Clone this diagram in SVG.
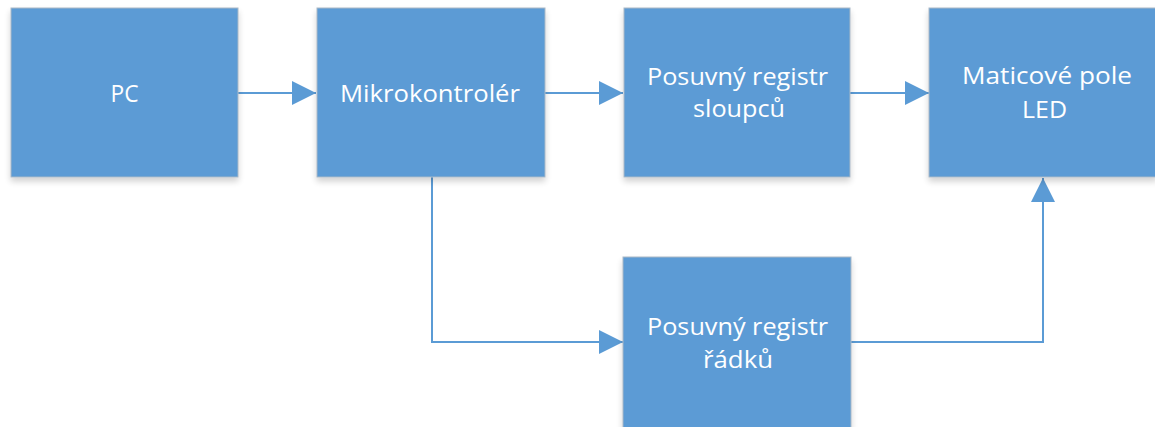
<svg xmlns="http://www.w3.org/2000/svg" width="1155" height="427" viewBox="0 0 1155 427">
<style>
.box{fill:#5B9BD5;stroke:#a9b8c6;stroke-width:1;filter:url(#sh)}
.lbl{font-family:"Open Sans","Liberation Sans",sans-serif;font-size:24px;fill:#ffffff;text-anchor:middle}
.conn{fill:none;stroke:#5B9BD5;stroke-width:2;marker-end:url(#ah)}
</style>
<defs>
<filter id="sh" x="-5%" y="-5%" width="110%" height="120%">
<feGaussianBlur in="SourceAlpha" stdDeviation="3"/>
<feOffset dy="4" result="b"/>
<feComponentTransfer><feFuncA type="linear" slope="0.18"/></feComponentTransfer>
<feMerge><feMergeNode/><feMergeNode in="SourceGraphic"/></feMerge>
</filter>
<marker id="ah" markerUnits="userSpaceOnUse" markerWidth="24" markerHeight="24" refX="24" refY="12" orient="auto">
<path d="M0,0 L24,12 L0,24 Z" fill="#5B9BD5"/>
</marker>
</defs>
<g id="connectors">
<path class="conn" d="M238,93 L316,93"/>
<path class="conn" d="M545,93 L623,93"/>
<path class="conn" d="M850,93 L929,93"/>
<path class="conn" d="M432,177 L432,342 L623,342"/>
<path class="conn" d="M851,342 L1043,342 L1043,178"/>
</g>
<g id="pc">
<rect class="box" x="11" y="8" width="227" height="169"/>
<text class="lbl" x="124.5" y="102" textLength="28" lengthAdjust="spacingAndGlyphs">PC</text>
</g>
<g id="mikrokontroler">
<rect class="box" x="317" y="8" width="228" height="169"/>
<text class="lbl" x="430" y="102" textLength="180" lengthAdjust="spacingAndGlyphs">Mikrokontrolér</text>
</g>
<g id="registr-sloupcu">
<rect class="box" x="624" y="8" width="226" height="169"/>
<text class="lbl" x="737.5" y="85" textLength="181" lengthAdjust="spacingAndGlyphs">Posuvný registr</text>
<text class="lbl" x="739" y="117" textLength="92" lengthAdjust="spacingAndGlyphs">sloupců</text>
</g>
<g id="maticove-pole">
<rect class="box" x="929" y="8" width="228" height="169"/>
<text class="lbl" x="1047" y="84" textLength="170" lengthAdjust="spacingAndGlyphs">Maticové pole</text>
<text class="lbl" x="1044.5" y="118" textLength="45" lengthAdjust="spacingAndGlyphs">LED</text>
</g>
<g id="registr-radku">
<rect class="box" x="623" y="257" width="228" height="172"/>
<text class="lbl" x="737.5" y="335" textLength="181" lengthAdjust="spacingAndGlyphs">Posuvný registr</text>
<text class="lbl" x="738" y="368" textLength="70" lengthAdjust="spacingAndGlyphs">řádků</text>
</g>
</svg>
